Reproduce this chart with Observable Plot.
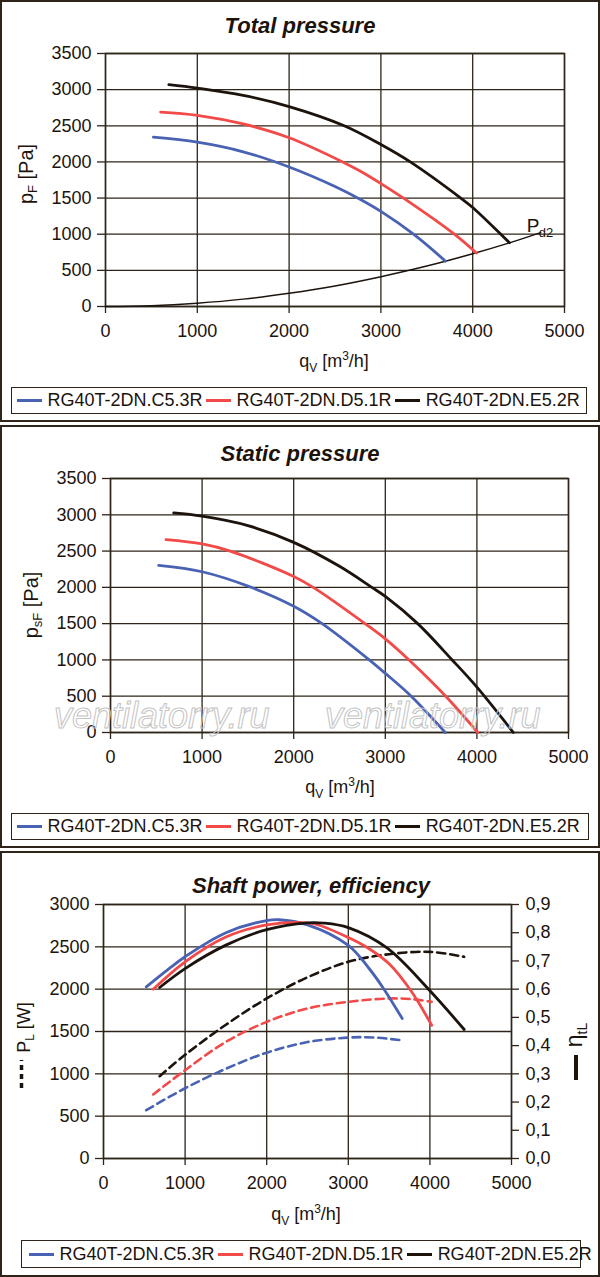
<!DOCTYPE html>
<html>
<head>
<meta charset="utf-8">
<script src="https://cdn.jsdelivr.net/npm/d3@7"></script>
<script src="https://cdn.jsdelivr.net/npm/@observablehq/plot@0.6"></script>
<style>
  body { margin: 0; background: #fff; font-family: "Liberation Sans", Arial, sans-serif; }
  #page { position: relative; width: 600px; height: 1277px; overflow: hidden; background: #fff; }
  .panel { position: absolute; left: 0; width: 600px; box-sizing: border-box; border: 2px solid #2e2419; }
  .title { position: absolute; width: 600px; text-align: center; font-weight: bold; font-style: italic;
           font-size: 22px; line-height: 22px; color: #1c130d; z-index: 3; }
  .plotbox { position: absolute; left: 0; z-index: 1; }
  .plotbox svg { overflow: visible; }
  .legend { position: absolute; box-sizing: border-box; border: 1.5px solid #2e2419; display: flex;
            align-items: center; font-size: 18px; color: #1c130d; white-space: nowrap; z-index: 3; background: #fff; }
  .item { display: flex; align-items: center; margin-right: 3px; }
  .sw { display: inline-block; width: 25px; height: 3px; margin-right: 6px; }
</style>
</head>
<body>
<div id="page"></div>
<script>
// ---------- shared categories / ticks ----------
const models = ["RG40T-2DN.C5.3R", "RG40T-2DN.D5.1R", "RG40T-2DN.E5.2R"];
const colors = ["#4a62b3", "#f24a48", "#1c130d"];
const xTicks = [0, 1000, 2000, 3000, 4000, 5000];
const pressureTicks = [0, 500, 1000, 1500, 2000, 2500, 3000, 3500];
const powerTicks = [0, 500, 1000, 1500, 2000, 2500, 3000];
const etaTicks = [0, 0.1, 0.2, 0.3, 0.4, 0.5, 0.6, 0.7, 0.8, 0.9];
const titles = ["Total pressure", "Static pressure", "Shaft power, efficiency"];
const watermark = "ventilatorry.ru";

// ---------- Total pressure [qV m3/h, pF Pa] ----------
const totalC53 = [[522,2342],[1000,2273],[1500,2140],[2000,1930],[2500,1660],[2778,1480],[3000,1315],[3355,1000],[3704,627]];
const totalD51 = [[600,2690],[1000,2645],[1500,2525],[2000,2335],[2600,1990],[2778,1870],[3000,1700],[3250,1495],[3800,1000],[4040,740]];
const totalE52 = [[690,3068],[1000,3020],[1500,2920],[2000,2765],[2600,2500],[3000,2240],[3320,2000],[3870,1500],[4000,1370],[4306,1000],[4400,882]];
const dynamicPd2 = [[0,0],[500,11],[1000,46],[1500,102],[2000,184],[2500,285],[3000,413],[3500,560],[4000,730],[4400,880],[4740,1022]];
const pd2Label = [[4590, 1120]];

// ---------- Static pressure [qV, psF Pa] ----------
const staticC53 = [[526,2303],[1000,2215],[1516,2010],[2000,1740],[2310,1500],[2811,1015],[3000,815],[3291,490],[3655,0]];
const staticD51 = [[606,2657],[1000,2598],[1307,2500],[2000,2150],[2226,1990],[2790,1490],[3000,1290],[3271,985],[3667,490],[4010,0]];
const staticE52 = [[690,3025],[1000,2980],[1500,2850],[2000,2620],[2500,2290],[2853,2000],[3000,1875],[3354,1500],[3730,1000],[4000,625],[4398,0]];

// ---------- Efficiency etaTL [qV, -] ----------
const etaC53 = [[524,0.608],[800,0.672],[1000,0.715],[1500,0.800],[2000,0.843],[2150,0.846],[2500,0.828],[3000,0.755],[3250,0.675],[3437,0.600],[3661,0.496]];
const etaD51 = [[609,0.600],[1000,0.697],[1500,0.785],[2000,0.828],[2350,0.837],[2600,0.830],[3000,0.783],[3240,0.746],[3500,0.690],[3778,0.590],[4022,0.472]];
const etaE52 = [[688,0.606],[1000,0.673],[1500,0.756],[2000,0.811],[2500,0.835],[2700,0.834],[3000,0.818],[3474,0.746],[3989,0.598],[4420,0.457]];

// ---------- Shaft power PL [qV, W] ----------
const powerC53 = [[524,570],[1000,830],[1500,1060],[2000,1250],[2500,1375],[3000,1428],[3300,1430],[3661,1395]];
const powerD51 = [[609,756],[1000,1043],[1500,1378],[2000,1614],[2500,1772],[3000,1850],[3500,1890],[3800,1880],[4022,1850]];
const powerE52 = [[688,972],[1000,1225],[1500,1580],[2000,1890],[2500,2140],[3000,2323],[3500,2413],[4000,2441],[4420,2382]];

// ---------- styling ----------
const ink = "#1c130d";
const gridC = "#2e2419";
const font = '"Liberation Sans", Arial, sans-serif';
const intFmt = d => String(d);
const etaScale = 3000 / 0.9;

const page = document.getElementById("page");
function el(tag, cls, css, html) {
  const e = document.createElement(tag);
  if (cls) e.className = cls;
  Object.assign(e.style, css || {});
  if (html != null) e.innerHTML = html;
  page.appendChild(e);
  return e;
}

// panel frames
el("div", "panel", {top: "0px", height: "422px"});
el("div", "panel", {top: "425px", height: "423px"});
el("div", "panel", {top: "851px", height: "426px"});

// titles
el("div", "title", {top: "14.5px", left: "0px"}).textContent = titles[0];
el("div", "title", {top: "442.5px", left: "0px"}).textContent = titles[1];
el("div", "title", {top: "874.5px", left: "11px"}).textContent = titles[2];

// legends
function legend(css) {
  const L = el("div", "legend", css);
  models.forEach((m, i) => {
    const it = document.createElement("div");
    it.className = "item";
    const sw = document.createElement("span");
    sw.className = "sw";
    sw.style.background = colors[i];
    const tx = document.createElement("span");
    tx.textContent = m;
    it.appendChild(sw); it.appendChild(tx);
    L.appendChild(it);
  });
}
legend({left: "11px", top: "387px", width: "576px", height: "27px", paddingLeft: "4.5px"});
legend({left: "11px", top: "813px", width: "578px", height: "27px", paddingLeft: "4.5px"});
legend({left: "21px", top: "1240px", width: "560px", height: "28px", paddingLeft: "6.5px"});

// helper for rich text labels inside svg
function richText(svg, x, y, parts, rotate, size) {
  const fs = size || 18;
  const t = d3.select(svg).append("text")
    .attr("transform", `translate(${x},${y})` + (rotate ? " rotate(-90)" : ""))
    .attr("text-anchor", "middle")
    .attr("font-family", font)
    .attr("font-size", fs)
    .attr("fill", ink);
  parts.forEach(p => {
    t.append("tspan").attr("dy", p.dy || 0).attr("font-size", p.size || fs).text(p.t);
  });
  return t;
}
const qLabel = [{t: "q"}, {t: "V", size: 12, dy: 5}, {t: " [m", dy: -5}, {t: "3", size: 12, dy: -7}, {t: "/h]", dy: 7}];

function commonMarks(yTicks) {
  return [
    Plot.gridX(xTicks, {stroke: gridC, strokeOpacity: 1, strokeWidth: 1.3}),
    Plot.gridY(yTicks, {stroke: gridC, strokeOpacity: 1, strokeWidth: 1.3}),
    Plot.frame({stroke: gridC, strokeWidth: 1.5}),
    Plot.axisX(xTicks, {tickSize: 7, tickPadding: 11, tickFormat: intFmt, label: null, stroke: gridC, strokeWidth: 1.3}),
    Plot.axisY(yTicks, {tickSize: 8, tickPadding: 6, tickFormat: intFmt, label: null, stroke: gridC, strokeWidth: 1.3})
  ];
}
const baseStyle = {fontSize: "18px", fontFamily: font, color: ink, background: "transparent", overflow: "visible"};
const X = d => d[0], Y = d => d[1];
const solid = (data, i, y) => Plot.line(data, {x: X, y: y || Y, stroke: colors[i], strokeWidth: 2.8, curve: "catmull-rom"});
const dashed = (data, i) => Plot.line(data, {x: X, y: Y, stroke: colors[i], strokeWidth: 2.6, strokeDasharray: "8,5", curve: "catmull-rom"});

// ---------- Panel 1 ----------
{
  const plot = Plot.plot({
    width: 600, height: 338, marginTop: 13, marginBottom: 72, marginLeft: 105, marginRight: 36,
    style: baseStyle,
    x: {domain: [0, 5000]},
    y: {domain: [0, 3500]},
    marks: [
      ...commonMarks(pressureTicks),
      Plot.line(dynamicPd2, {x: X, y: Y, stroke: ink, strokeWidth: 1.5, curve: "catmull-rom"}),
      solid(totalC53, 0), solid(totalD51, 1), solid(totalE52, 2),
      Plot.text(pd2Label, {x: X, y: Y, text: () => "P", fontSize: 19, textAnchor: "start", fill: ink}),
      Plot.text(pd2Label, {x: X, y: Y, text: () => "d2", fontSize: 13, textAnchor: "start", dx: 12, dy: 7, fill: ink})
    ]
  });
  const box = el("div", "plotbox", {top: "40px"});
  box.appendChild(plot);
  richText(plot, 334, 327, qLabel, false);
  richText(plot, 33, 134, [{t: "p"}, {t: "F", size: 13, dy: 4}, {t: " [Pa]", dy: -4}], true, 20);
}

// ---------- Panel 2 ----------
{
  const plot = Plot.plot({
    width: 600, height: 338, marginTop: 12, marginBottom: 72, marginLeft: 110, marginRight: 32,
    style: baseStyle,
    x: {domain: [0, 5000]},
    y: {domain: [0, 3500]},
    marks: [
      ...commonMarks(pressureTicks),
      solid(staticC53, 0), solid(staticD51, 1), solid(staticE52, 2)
    ]
  });
  const box = el("div", "plotbox", {top: "466px"});
  box.appendChild(plot);
  richText(plot, 340, 327, qLabel, false);
  richText(plot, 38, 139, [{t: "p"}, {t: "sF", size: 13, dy: 4}, {t: " [Pa]", dy: -4}], true, 20);
  [54, 325].forEach(x0 => {
    d3.select(plot).append("text")
      .attr("x", x0).attr("y", 262)
      .attr("text-anchor", "start")
      .attr("font-family", font).attr("font-style", "italic").attr("font-size", 36)
      .attr("fill", "none").attr("stroke", "#c4c4c4").attr("stroke-width", 1)
      .text(watermark);
  });
}

// ---------- Panel 3 ----------
{
  const E = d => d[1] * etaScale;
  const plot = Plot.plot({
    width: 600, height: 352, marginTop: 24, marginBottom: 74, marginLeft: 103, marginRight: 89,
    style: baseStyle,
    x: {domain: [0, 5000]},
    y: {domain: [0, 3000]},
    marks: [
      ...commonMarks(powerTicks),
      Plot.axisY(etaTicks.map(e => e * etaScale), {
        anchor: "right", tickSize: 7, tickPadding: 7, label: null, stroke: gridC, strokeWidth: 1.3,
        tickFormat: d => (d / etaScale).toFixed(1).replace(".", ",")
      }),
      dashed(powerC53, 0), dashed(powerD51, 1), dashed(powerE52, 2),
      solid(etaC53, 0, E), solid(etaD51, 1, E), solid(etaE52, 2, E)
    ]
  });
  const box = el("div", "plotbox", {top: "880px"});
  box.appendChild(plot);
  richText(plot, 306, 340, qLabel, false);
  richText(plot, 30, 147.5, [{t: "P"}, {t: "L", size: 12, dy: 4}, {t: " [W]", dy: -4}], true);
  d3.select(plot).append("line")
    .attr("x1", 21.5).attr("x2", 21.5).attr("y1", 208).attr("y2", 180)
    .attr("stroke", ink).attr("stroke-width", 3.5).attr("stroke-dasharray", "5,4");
  richText(plot, 582, 155, [{t: "η", size: 23}, {t: "tL", size: 14, dy: 5}], true);
  d3.select(plot).append("line")
    .attr("x1", 576).attr("x2", 576).attr("y1", 200).attr("y2", 175)
    .attr("stroke", ink).attr("stroke-width", 4);
}
</script>
</body>
</html>
